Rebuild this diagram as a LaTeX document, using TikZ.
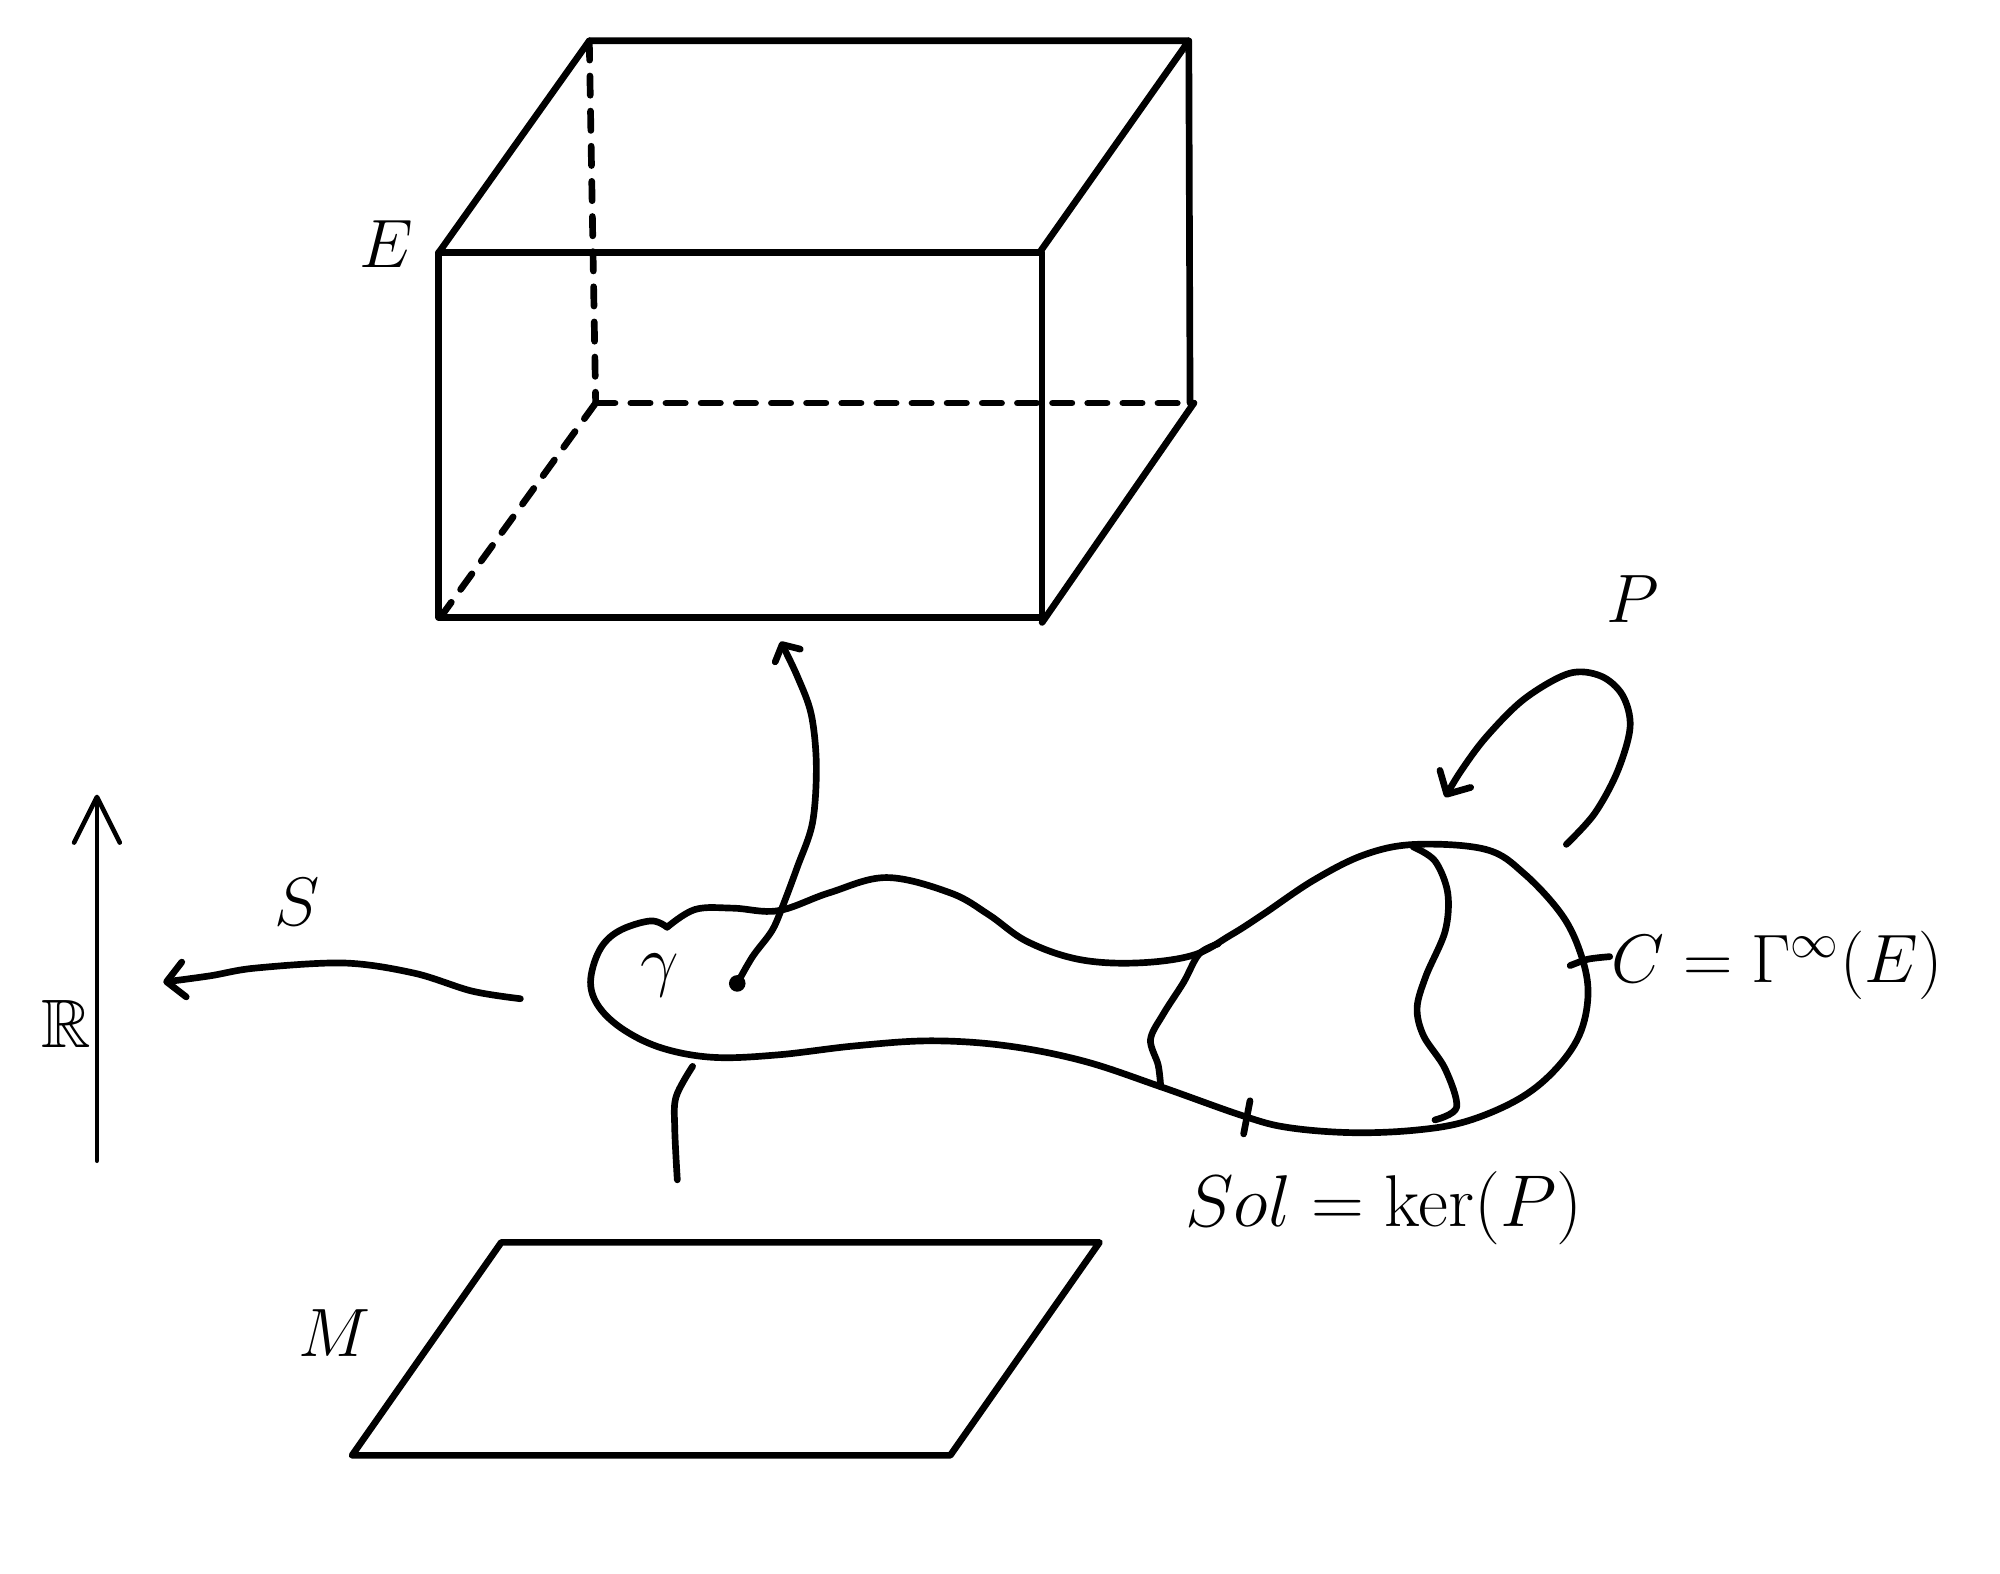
\documentclass[tikz,border=0pt]{standalone}
\usepackage{amsmath,amssymb}
\usetikzlibrary{arrows.meta}

\tikzset{
  trait/.style={line width=1.9pt, line cap=round, line join=round},
  tirets/.style={trait, dash pattern=on 5.5pt off 4.5pt},
  libelle/.style={inner sep=0pt, scale=0.94, transform shape, font=\fontsize{20.74}{25}\selectfont},
  petite/.style={trait, -{Straight Barb[round, length=3.5pt, width=8pt]}},
  grande/.style={trait, -{Straight Barb[round, length=5pt, width=10pt]}}
}

\begin{document}
\begin{tikzpicture}[x=0.012755cm, y=-0.012755cm]

\useasboundingbox (0,0) rectangle (1568,1234);

% Boite
\draw[trait] (344,198) rectangle (817,484);

\draw[trait] (344,198) -- (462,32) -- (932,32) -- (815,198);
\draw[trait] (932,32) -- (933,316);
\draw[trait] (817,488) -- (936,316);

\draw[tirets] (462,32) -- (467,316);
\draw[tirets] (467,316) -- (936,316);
\draw[tirets] (467,316) -- (346,483);

\node[libelle] (E) at (303,191)
{$E$};

% Base
\draw[trait] (393,974) -- (862,974) -- (745,1141) -- (276,1141) -- cycle;

\node[libelle] (M) at (262,1045)
{$M$};

% Axe
\coordinate (axeA) at (76,910);
\coordinate (axeB) at (76,623);

\draw[line width=1.3pt, line cap=round, -{Straight Barb[round, length=13pt, width=13pt]}] (axeA) -- (axeB);

\node[libelle] (R) at (52,803)
{$\mathbb{R}$};

% Ensemble
\draw[trait] plot[smooth, tension=0.6] coordinates {
(523,727) (545,713) (575,712) (610,714) (650,700) (695,688) (745,700) (775,717)
(805,738) (845,752) (890,755) (935,749) (965,733) (990,717) (1030,690) (1070,670)
(1110,662) (1165,666) (1195,685) (1225,718) (1240,750) (1245,780) (1238,812)
(1218,840) (1190,862) (1150,879) (1110,886) (1060,888) (1010,884) (975,875)
(910,852) (850,832) (790,820) (730,816) (670,820) (610,827) (560,829) (520,822)
(490,808) (470,790) (463,770) (470,745) (485,730) (510,722) (523,727)};

\draw[trait] plot[smooth, tension=0.55] coordinates {
(955,740) (940,748) (928,770) (912,795) (902,815) (908,835) (910,852)};

\draw[trait] plot[smooth, tension=0.55] coordinates {
(1108,664) (1125,675) (1135,700) (1133,730) (1118,765) (1111,790) (1116,812)
(1133,838) (1142,868) (1125,878)};

\node[libelle] (gamma) at (517,765)
{$\gamma$};

% Traits
\draw[trait] (980,863) -- (975,889);

\draw[trait] plot[smooth] coordinates {(1231,757) (1245,752) (1262,750)};

\node[libelle] (C) at (1393,757)
{$C=\Gamma^\infty(E)$};

\node[libelle, scale=1.07] (Sol) at (1085,947)
{$Sol=\ker(P)$};

% Fleches
\fill (578,771) circle (6.5);

\draw[petite] plot[smooth, tension=0.55] coordinates {
(578,771) (590,750) (605,730) (613,712) (625,680) (637,645) (640,600) (636,560)
(625,530) (612,503)};

\draw[grande] plot[smooth, tension=0.55] coordinates {
(408,783) (370,777) (325,763) (270,755) (200,759) (165,765) (128,770)};

\node[libelle] (S) at (233,707)
{$S$};

\draw[grande] plot[smooth, tension=0.55] coordinates {
(1228,662) (1250,638) (1268,605) (1278,570) (1272,545) (1255,530) (1230,528)
(1195,548) (1165,578) (1145,605) (1133,625)};

\node[libelle] (P) at (1280,470)
{$P$};

\draw[trait] plot[smooth, tension=0.55] coordinates {
(543,836) (530,860) (529,885) (531,925)};

\end{tikzpicture}
\end{document}
